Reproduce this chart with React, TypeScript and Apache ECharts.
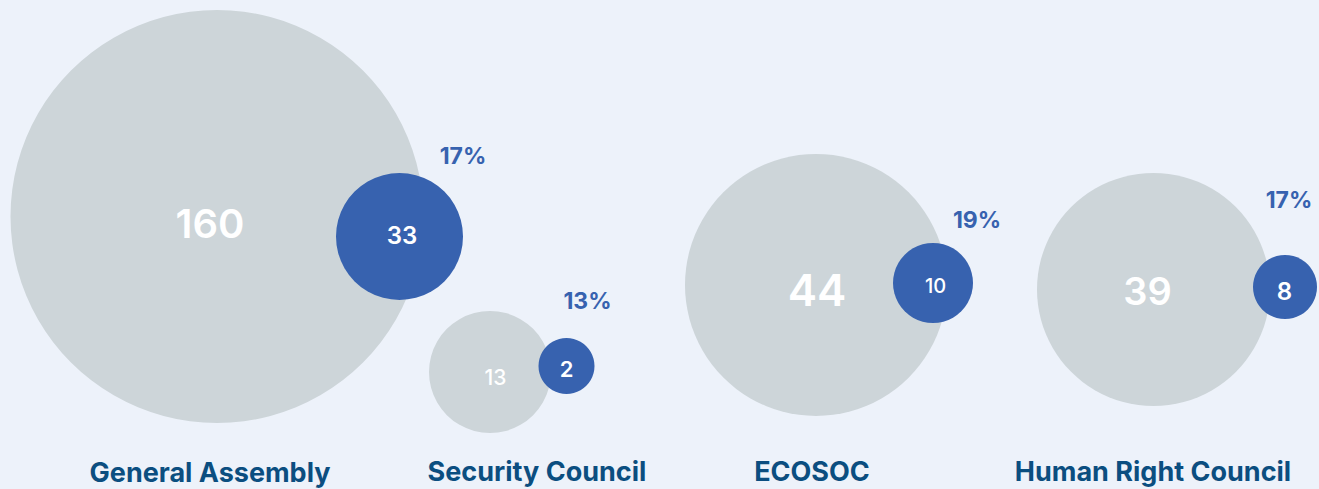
import React, { useEffect, useRef } from "react";
import * as echarts from "echarts";

// ---- data ----
const categories = ["General Assembly", "Security Council", "ECOSOC", "Human Right Council"];
const totalValues = [160, 13, 44, 39];
const subsetValues = [33, 2, 10, 8];
const sharePercents = [17, 13, 19, 17];

// ---- layout (pixel space of the 1319x489 canvas) ----
const W = 1319;
const H = 489;
const totalCenters = [[217, 216.5], [490, 372], [816, 285], [1153.5, 289.5]];
const totalDiameters = [413, 122, 262, 233];
const totalLabelPos = [[210, 223], [495.5, 377.5], [817, 290], [1147.5, 290.5]];
const totalFont = [40, 21, 44, 38];
const totalWeight = [600, 500, 600, 600];

const subsetCenters = [[399.5, 236.5], [566.5, 366], [933, 283], [1285, 287]];
const subsetDiameters = [127, 56, 80, 64];
const subsetLabelPos = [[402, 235], [566.5, 368.5], [935.5, 285.5], [1284.5, 291.5]];
const subsetFont = [24, 22, 20, 24];
const subsetWeight = [600, 600, 500, 600];

const sharePos = [[463, 155.5], [587.5, 301], [977, 220], [1289, 200]];
const categoryPos = [[210, 472], [537, 471], [812, 471], [1153, 471]];

const GREY = "#CDD5D9";
const BLUE = "#3762AF";
const SHARE_COLOR = "#3762AF";
const CAT_COLOR = "#0B4E80";
const BG = "#EDF2FA";
const FONT = "Inter";

export default function App() {
  const ref = useRef<HTMLDivElement>(null);

  useEffect(() => {
    document.body.style.margin = "0";
    if (!ref.current) return;
    const chart = echarts.init(ref.current, undefined, { renderer: "svg" });

    const circleItem = (
      center: number[],
      d: number,
      value: number,
      labelPos: number[],
      fontSize: number,
      weight: number
    ) => ({
      value: [center[0], center[1], value],
      symbolSize: d,
      label: {
        show: true,
        position: "inside",
        formatter: String(value),
        color: "#FFFFFF",
        fontFamily: FONT,
        fontSize,
        fontWeight: weight,
        offset: [labelPos[0] - center[0], labelPos[1] - center[1]],
      },
    });

    chart.setOption({
      animation: false,
      backgroundColor: BG,
      grid: { left: 0, right: 0, top: 0, bottom: 0 },
      xAxis: { type: "value", min: 0, max: W, show: false },
      yAxis: { type: "value", min: 0, max: H, inverse: true, show: false },
      tooltip: { show: false },
      series: [
        {
          name: "Total",
          type: "scatter",
          z: 2,
          itemStyle: { color: GREY, opacity: 1 },
          emphasis: { disabled: true },
          data: categories.map((_, i) =>
            circleItem(totalCenters[i], totalDiameters[i], totalValues[i], totalLabelPos[i], totalFont[i], totalWeight[i])
          ),
        },
        {
          name: "Subset",
          type: "scatter",
          z: 3,
          itemStyle: { color: BLUE, opacity: 1 },
          emphasis: { disabled: true },
          data: categories.map((_, i) =>
            circleItem(subsetCenters[i], subsetDiameters[i], subsetValues[i], subsetLabelPos[i], subsetFont[i], subsetWeight[i])
          ),
        },
        {
          name: "Share",
          type: "scatter",
          z: 4,
          symbolSize: 0,
          itemStyle: { opacity: 1 },
          emphasis: { disabled: true },
          label: {
            show: true,
            position: "inside",
            formatter: (p: any) => sharePercents[p.dataIndex] + "%",
            color: SHARE_COLOR,
            fontFamily: FONT,
            fontSize: 23,
            fontWeight: 700,
          },
          data: sharePos.map((p) => [p[0], p[1]]),
        },
        {
          name: "Category",
          type: "scatter",
          z: 4,
          symbolSize: 0,
          itemStyle: { opacity: 1 },
          emphasis: { disabled: true },
          label: {
            show: true,
            position: "inside",
            formatter: (p: any) => categories[p.dataIndex],
            color: CAT_COLOR,
            fontFamily: FONT,
            fontSize: 27,
            fontWeight: 700,
          },
          data: categoryPos.map((p) => [p[0], p[1]]),
        },
      ],
    });

    return () => chart.dispose();
  }, []);

  return <div ref={ref} style={{ width: W, height: H }} />;
}
